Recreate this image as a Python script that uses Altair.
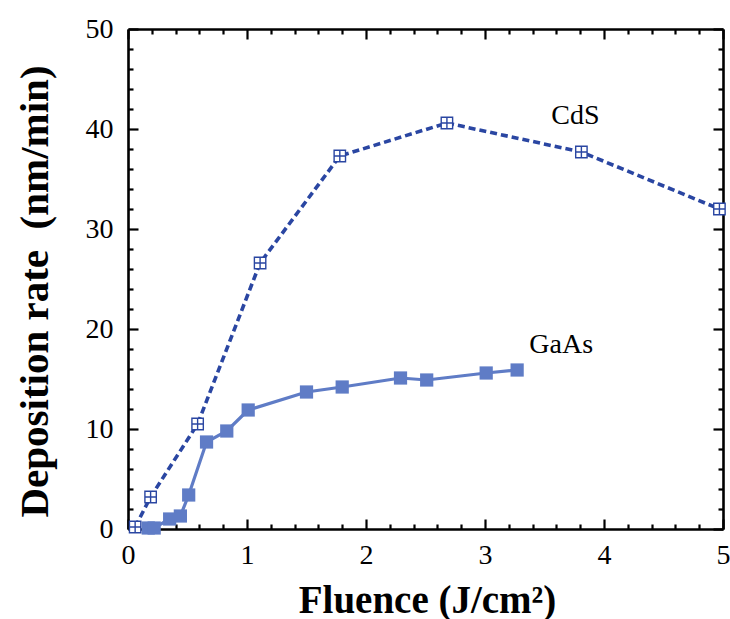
import altair as alt
import pandas as pd

# ---- data ----
cds_x = [0.06, 0.19, 0.585, 1.11, 1.78, 2.68, 3.81, 4.97]
cds_y = [0.2, 3.2, 10.5, 26.6, 37.3, 40.6, 37.7, 32.0]

gaas_x = [0.17, 0.22, 0.35, 0.44, 0.51, 0.66, 0.83, 1.01, 1.50, 1.80, 2.29, 2.51, 3.01, 3.27]
gaas_y = [0.1, 0.1, 1.0, 1.3, 3.4, 8.7, 9.8, 11.9, 13.7, 14.2, 15.1, 14.9, 15.6, 15.9]

label_text = ["CdS", "GaAs"]
label_x = [3.76, 3.64]
label_y = [40.5, 17.6]

x_major = [0, 1, 2, 3, 4, 5]
x_minor = [round(i * 0.2, 1) for i in range(26) if i % 5 != 0]
y_major = [0, 10, 20, 30, 40, 50]
y_minor = [i * 2 for i in range(26) if i % 5 != 0]

cds = pd.DataFrame({"x": cds_x, "y": cds_y})
gaas = pd.DataFrame({"x": gaas_x, "y": gaas_y})
labels = pd.DataFrame({"x": label_x, "y": label_y, "t": label_text})

CDS_COLOR = "#2a46a2"
GAAS_COLOR = "#5f7cc6"
FONT = "Liberation Serif"

xs = alt.Scale(domain=[0, 5], nice=False, zero=False)
ys = alt.Scale(domain=[0, 50], nice=False, zero=False)


def tick_axis(orient, values, size, domain):
    return alt.Axis(
        orient=orient, values=values, labels=False, title=None, grid=False,
        ticks=True, tickSize=alt.ExprRef(expr=str(-size)), tickWidth=2.2,
        tickColor="black", domain=domain, domainColor="black", domainWidth=2.6,
    )


x_label_axis = alt.Axis(
    orient="bottom", values=x_major, ticks=False, domain=False, grid=False,
    labelFont=FONT, labelFontSize=28, labelColor="black", labelPadding=12,
    labelFlush=False, labelOverlap=False, labelBound=False,
    title="Fluence (J/cm²)", titleFont=FONT, titleFontSize=39, titleFontWeight="bold",
    titleColor="black", titleX=299, titleY=83, titleAlign="center",
    titleBaseline="alphabetic", titleAngle=0,
)
y_label_axis = alt.Axis(
    orient="left", values=y_major, ticks=False, domain=False, grid=False,
    labelFont=FONT, labelFontSize=28, labelColor="black", labelPadding=15,
    labelFlush=False, labelOverlap=False, labelBound=False,
    title="Deposition rate \u00a0(nm/min)", titleFont=FONT, titleFontSize=41,
    titleFontWeight="bold", titleColor="black", titleX=-81, titleY=262,
    titleAlign="center", titleBaseline="alphabetic", titleAngle=270,
)

cds_line = alt.Chart(cds).mark_line(
    color=CDS_COLOR, strokeWidth=3.6, strokeDash=[7, 4]
).encode(
    x=alt.X("x:Q", scale=xs, axis=x_label_axis),
    y=alt.Y("y:Q", scale=ys, axis=y_label_axis),
)

gaas_line = alt.Chart(gaas).mark_line(color=GAAS_COLOR, strokeWidth=3.2).encode(
    x=alt.X("x:Q", scale=xs, axis=tick_axis("bottom", x_major, 10, True)),
    y=alt.Y("y:Q", scale=ys, axis=tick_axis("left", y_major, 10, True)),
)

cds_pts = alt.Chart(cds).mark_point(
    shape="M-1,-1H1V1H-1ZM0,-1V1M-1,0H1", filled=True, fill="white",
    stroke=CDS_COLOR, strokeWidth=1.4, size=130, opacity=1,
).encode(
    x=alt.X("x:Q", scale=xs, axis=tick_axis("bottom", x_minor, 5, False)),
    y=alt.Y("y:Q", scale=ys, axis=tick_axis("left", y_minor, 5, False)),
)

gaas_pts = alt.Chart(gaas).mark_square(size=175, color=GAAS_COLOR, opacity=1).encode(
    x=alt.X("x:Q", scale=xs, axis=tick_axis("top", x_major, 10, True)),
    y=alt.Y("y:Q", scale=ys, axis=tick_axis("right", y_major, 10, True)),
)

text = alt.Chart(labels).mark_text(
    font=FONT, fontSize=28, color="black", align="center", baseline="alphabetic"
).encode(
    x=alt.X("x:Q", scale=xs, axis=tick_axis("top", x_minor, 5, False)),
    y=alt.Y("y:Q", scale=ys, axis=tick_axis("right", y_minor, 5, False)),
    text="t:N",
)

chart = alt.layer(cds_line, gaas_line, cds_pts, gaas_pts, text).resolve_axis(
    x="independent", y="independent"
).properties(
    width=595, height=500,
    autosize=alt.AutoSizeParams(type="none"),
    padding={"left": 128, "top": 29, "right": 7, "bottom": 90},
    background="white",
).configure_view(stroke=None)

chart.save("out.html", embed_options={"renderer": "svg", "actions": False})
